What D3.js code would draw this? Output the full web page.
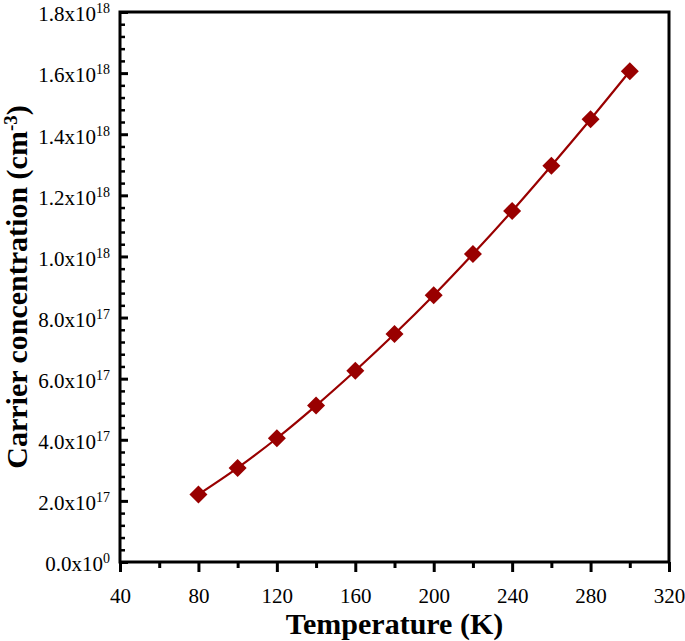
<!DOCTYPE html>
<html>
<head>
<meta charset="utf-8">
<script src="https://cdn.jsdelivr.net/npm/d3@7"></script>
<style>
  body { margin: 0; background: #fff; }
  svg { display: block; }
  svg text { font-family: "Liberation Serif", "Times New Roman", serif; }
</style>
</head>
<body>
<svg id="chart"></svg>
<script>
// data
const temps = [80, 100, 120, 140, 160, 180, 200, 220, 240, 260, 280, 300];
const conc = [2.21e17, 3.08e17, 4.05e17, 5.12e17, 6.26e17, 7.46e17, 8.73e17, 10.08e17, 11.49e17, 12.97e17, 14.49e17, 16.06e17];

const xMajor = [40, 80, 120, 160, 200, 240, 280, 320];
const xMinor = [60, 100, 140, 180, 220, 260, 300];
const yMajor = [0, 0.2e18, 0.4e18, 0.6e18, 0.8e18, 1.0e18, 1.2e18, 1.4e18, 1.6e18, 1.8e18];
const yMantissa = ["0.0", "2.0", "4.0", "6.0", "8.0", "1.0", "1.2", "1.4", "1.6", "1.8"];
const yExponent = ["0", "17", "17", "17", "17", "18", "18", "18", "18", "18"];
const yMinor = d3.range(0, 1.8e18 + 1, 0.04e18).filter((d, i) => i % 5 !== 0);

const W = 685, H = 641;
const margin = { top: 12, right: 16, bottom: 79, left: 120 };
const color = "#990000";

const svg = d3.select("#chart").attr("width", W).attr("height", H);

const x = d3.scaleLinear().domain([40, 320]).range([margin.left, W - margin.right]);
const y = d3.scaleLinear().domain([0, 1.8e18]).range([H - margin.bottom, margin.top]);

// minor ticks first
svg.append("g")
    .attr("transform", `translate(0,${y(0)})`)
    .call(d3.axisBottom(x).tickValues(xMinor).tickSize(6).tickFormat(""))
    .call(g => g.select(".domain").remove())
    .call(g => g.selectAll("line").attr("stroke-width", 3));

svg.append("g")
    .attr("transform", `translate(${x(40)},0)`)
    .call(d3.axisLeft(y).tickValues(yMinor).tickSize(-5).tickFormat(""))
    .call(g => g.select(".domain").remove())
    .call(g => g.selectAll("line").attr("stroke-width", 2.5));

// major x axis
svg.append("g")
    .attr("transform", `translate(0,${y(0)})`)
    .call(d3.axisBottom(x).tickValues(xMajor).tickSize(10).tickPadding(16).tickFormat(d3.format("d")))
    .call(g => g.select(".domain").remove())
    .call(g => g.selectAll("line").attr("stroke-width", 3))
    .call(g => g.selectAll("text")
        .style("font-family", "'Liberation Serif', serif")
        .attr("font-size", 21)
        .attr("fill", "#000"));

// major y axis with x10^n labels
svg.append("g")
    .attr("transform", `translate(${x(40)},0)`)
    .call(d3.axisLeft(y).tickValues(yMajor).tickSize(-8).tickPadding(10).tickFormat(""))
    .call(g => g.select(".domain").remove())
    .call(g => g.selectAll("line").attr("stroke-width", 3))
    .call(g => g.selectAll(".tick text")
        .style("font-family", "'Liberation Serif', serif")
        .attr("font-size", 21)
        .attr("fill", "#000")
        .attr("dy", "0.42em")
        .each(function(d, i) {
            const t = d3.select(this);
            t.append("tspan").text(yMantissa[i] + "x10");
            t.append("tspan").attr("font-size", 14).attr("dy", -8).text(yExponent[i]);
        }));

// frame
svg.append("rect")
    .attr("x", x(40))
    .attr("y", y(1.8e18))
    .attr("width", x(320) - x(40))
    .attr("height", y(0) - y(1.8e18))
    .attr("fill", "none")
    .attr("stroke", "#000")
    .attr("stroke-width", 3);

// curve
const line = d3.line()
    .x((d, i) => x(temps[i]))
    .y(d => y(d))
    .curve(d3.curveCatmullRom);

svg.append("path")
    .datum(conc)
    .attr("d", line)
    .attr("fill", "none")
    .attr("stroke", color)
    .attr("stroke-width", 2.2);

const diamond = d3.symbol().type(d3.symbolSquare).size(162);
svg.append("g")
    .selectAll("path")
    .data(conc)
    .join("path")
    .attr("d", diamond)
    .attr("transform", (d, i) => `translate(${x(temps[i])},${y(d)}) rotate(45)`)
    .attr("fill", color);

// axis titles
svg.append("text")
    .attr("x", (x(40) + x(320)) / 2)
    .attr("y", 634)
    .attr("text-anchor", "middle")
    .attr("font-size", 30)
    .attr("font-weight", "bold")
    .text("Temperature (K)");

const yt = svg.append("text")
    .attr("transform", `translate(27,${(y(0) + y(1.8e18)) / 2}) rotate(-90)`)
    .attr("text-anchor", "middle")
    .attr("font-size", 30)
    .attr("font-weight", "bold");
yt.append("tspan").text("Carrier concentration (cm");
yt.append("tspan").attr("font-size", 19).attr("dy", -10).text("-3");
yt.append("tspan").attr("dy", 10).text(")");
</script>
</body>
</html>
